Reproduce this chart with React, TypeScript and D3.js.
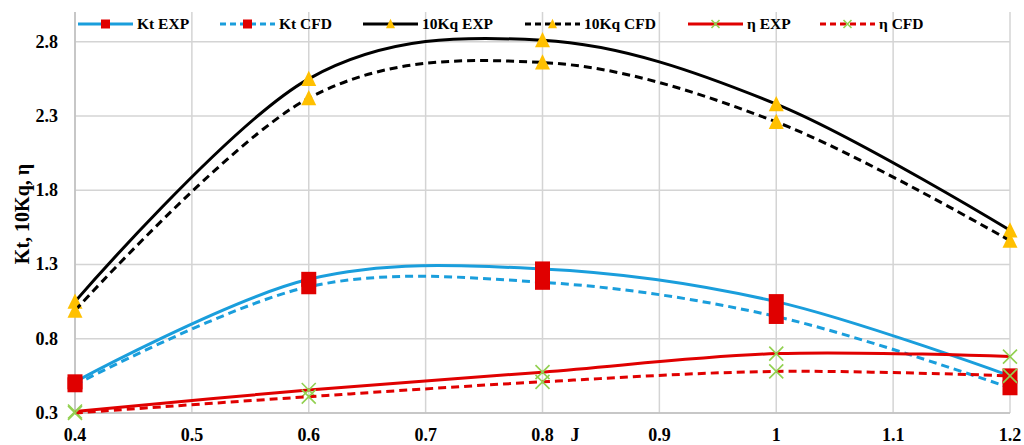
import React, { useEffect, useRef } from 'react'
import * as d3 from 'd3'

const jValues = [0.4, 0.6, 0.8, 1.0, 1.2]
const ktExp = [0.51, 1.2, 1.27, 1.05, 0.55]
const ktCfd = [0.49, 1.15, 1.18, 0.95, 0.47]
const kqExp = [1.05, 2.55, 2.81, 2.38, 1.53]
const kqCfd = [0.99, 2.42, 2.66, 2.26, 1.46]
const etaExp = [0.31, 0.455, 0.575, 0.70, 0.68]
const etaCfd = [0.30, 0.41, 0.51, 0.58, 0.55]

const xTicks = [0.4, 0.5, 0.6, 0.7, 0.8, 0.9, 1, 1.1, 1.2]
const yTicks = [0.3, 0.8, 1.3, 1.8, 2.3, 2.8]

const seriesNames = ['Kt EXP', 'Kt CFD', '10Kq EXP', '10Kq CFD', 'η EXP', 'η CFD']

const W = 1024
const H = 445

export default function App() {
    const ref = useRef<SVGSVGElement>(null)

    useEffect(() => {
        const svg = d3.select(ref.current)
        const left = 75, right = 1010, top = 12, bottom = 413

        const x = d3.scaleLinear().domain([0.4, 1.2]).range([left, right])
        const y = d3.scaleLinear().domain([0.3, 3.0]).range([bottom, top])

        const blue = '#1a9edc'
        const red = '#e00000'
        const orange = '#ffc000'
        const green = '#92d050'

        const series = [
            { name: seriesNames[0], vals: ktExp, color: blue, dash: null, marker: 'square' },
            { name: seriesNames[1], vals: ktCfd, color: blue, dash: '8,5', marker: 'square' },
            { name: seriesNames[2], vals: kqExp, color: '#000', dash: null, marker: 'triangle' },
            { name: seriesNames[3], vals: kqCfd, color: '#000', dash: '8,5', marker: 'triangle' },
            { name: seriesNames[4], vals: etaExp, color: red, dash: null, marker: 'x' },
            { name: seriesNames[5], vals: etaCfd, color: red, dash: '8,5', marker: 'x' },
        ]

        const g = svg.append('g')

        // gridlines
        g.selectAll('.vgrid').data(xTicks).enter().append('line')
            .attr('x1', d => x(d)).attr('x2', d => x(d))
            .attr('y1', top).attr('y2', bottom)
            .attr('stroke', '#d4d4d4').attr('stroke-width', 1.5)
        g.selectAll('.hgrid').data(yTicks).enter().append('line')
            .attr('x1', left).attr('x2', right)
            .attr('y1', d => y(d)).attr('y2', d => y(d))
            .attr('stroke', '#d4d4d4').attr('stroke-width', 1.5)

        // axis lines
        g.append('line').attr('x1', left).attr('x2', left).attr('y1', top).attr('y2', bottom)
            .attr('stroke', '#bfbfbf').attr('stroke-width', 1.5)
        g.append('line').attr('x1', left).attr('x2', right).attr('y1', bottom).attr('y2', bottom)
            .attr('stroke', '#bfbfbf').attr('stroke-width', 1.5)

        // tick labels
        const font = '"Liberation Serif", "Times New Roman", serif'
        g.selectAll('.xl').data(xTicks).enter().append('text')
            .attr('x', d => x(d)).attr('y', 441)
            .attr('text-anchor', 'middle')
            .style('font-family', font).style('font-weight', 'bold').style('font-size', '18px')
            .text(d => d3.format('')(d))
        g.selectAll('.yl').data(yTicks).enter().append('text')
            .attr('x', 58).attr('y', d => y(d) + 6)
            .attr('text-anchor', 'end')
            .style('font-family', font).style('font-weight', 'bold').style('font-size', '18px')
            .text(d => d.toFixed(1))

        g.append('text').attr('x', 575).attr('y', 441).attr('text-anchor', 'middle')
            .style('font-family', font).style('font-weight', 'bold').style('font-size', '18px')
            .text('J')
        g.append('text').attr('transform', 'translate(29, 214) rotate(-90)')
            .attr('text-anchor', 'middle')
            .style('font-family', font).style('font-weight', 'bold').style('font-size', '20px')
            .text('Kt, 10Kq, η')

        const line = d3.line<number>()
            .x((d, i) => x(jValues[i]))
            .y(d => y(d))
            .curve(d3.curveCardinal.tension(0))

        const drawMarker = (sel: any, type: string, cx: number, cy: number, s: number) => {
            if (type === 'square') {
                sel.append('rect').attr('x', cx - s / 2).attr('y', cy - s / 2)
                    .attr('width', s).attr('height', s).attr('fill', red)
            } else if (type === 'triangle') {
                const h = s * 0.95
                sel.append('path')
                    .attr('d', `M${cx},${cy - h / 2 - 1}L${cx + s / 2},${cy + h / 2}L${cx - s / 2},${cy + h / 2}Z`)
                    .attr('fill', orange)
            } else {
                const r = s / 2
                sel.append('path')
                    .attr('d', `M${cx - r},${cy - r}L${cx + r},${cy + r}M${cx - r},${cy + r}L${cx + r},${cy - r}`)
                    .attr('stroke', green).attr('stroke-width', 1.6).attr('fill', 'none')
            }
        }

        series.forEach(s => {
            g.append('path').datum(s.vals).attr('d', line)
                .attr('fill', 'none').attr('stroke', s.color).attr('stroke-width', 3)
                .attr('stroke-dasharray', s.dash)
            s.vals.forEach((v, i) => drawMarker(g, s.marker, x(jValues[i]), y(v), s.marker === 'x' ? 14 : 15))
        })

        // legend
        const legendX = [78, 220, 363, 525, 688, 820]
        const ly = 24
        series.forEach((s, i) => {
            const lx = legendX[i]
            g.append('line').attr('x1', lx).attr('x2', lx + 55).attr('y1', ly).attr('y2', ly)
                .attr('stroke', s.color).attr('stroke-width', 3)
                .attr('stroke-dasharray', s.dash ? '6,4' : null)
            drawMarker(g, s.marker, lx + 27.5, ly, s.marker === 'x' ? 8 : 9)
            g.append('text').attr('x', lx + 59).attr('y', ly + 5)
                .style('font-family', font).style('font-weight', 'bold').style('font-size', '15.5px')
                .text(s.name)
        })

        return () => { svg.selectAll('*').remove() }
    }, [])

    return (
        <div style={{ position: 'absolute', left: 0, top: 0 }}>
            <svg width={W} height={H} ref={ref} style={{ display: 'block', background: '#fff' }} />
        </div>
    )
}
